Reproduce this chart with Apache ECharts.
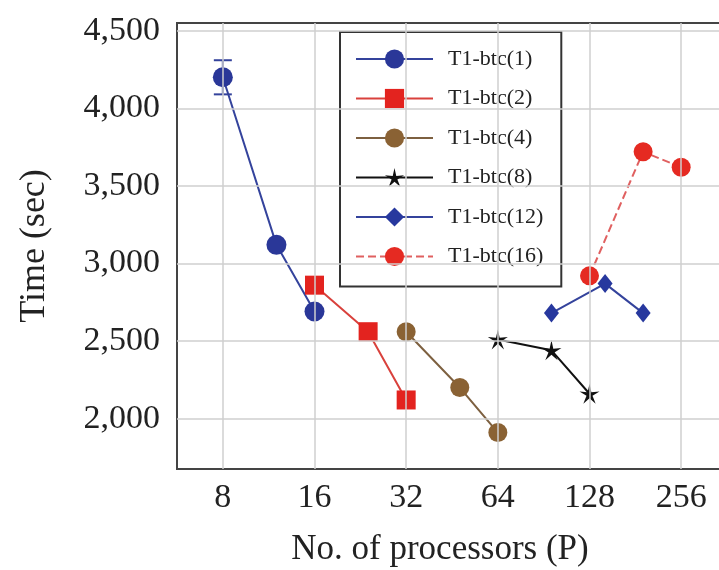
<!DOCTYPE html>
<html>
<head>
<meta charset="utf-8">
<script src="https://cdn.jsdelivr.net/npm/echarts@6/dist/echarts.min.js"></script>
</head>
<body style="margin:0">
<div id="main" style="width:719px;height:570px"></div>
<script>
var xTicks = [8, 16, 32, 64, 128, 256];
var yTicks = [2000, 2500, 3000, 3500, 4000, 4500];

var names = ['T1-btc(1)', 'T1-btc(2)', 'T1-btc(4)', 'T1-btc(8)', 'T1-btc(12)', 'T1-btc(16)'];
var procs1 = [8, 12, 16];      var time1 = [4200, 3120, 2690];
var procs2 = [16, 24, 32];     var time2 = [2860, 2560, 2120];
var procs4 = [32, 48, 64];     var time4 = [2560, 2200, 1910];
var procs8 = [64, 96, 128];    var time8 = [2510, 2440, 2160];
var procs12 = [96, 144, 192];  var time12 = [2680, 2870, 2680];
var procs16 = [128, 192, 256]; var time16 = [2920, 3720, 3620];

// error bar on the first point of T1-btc(1)
var errProc = [8];
var errLow = [4090];
var errHigh = [4310];

var serif = '"Liberation Serif", "Times New Roman", serif';
var star = 'path://M10 0 L11.76 7.57 L19.51 6.91 L12.85 10.93 L15.88 18.09 L10 13 L4.12 18.09 L7.15 10.93 L0.49 6.91 L8.24 7.57 Z';

function pts(procs, times) {
    return procs.map(function (p, i) { return [Math.log2(p), times[i]]; });
}
function near(v, list) {
    for (var i = 0; i < list.length; i++) {
        if (Math.abs(v - list[i]) < 1e-6) return true;
    }
    return false;
}

var chart = echarts.init(document.getElementById('main'));

function lineSeries(name, procs, times, symbol, size, fill, lineColor, dash) {
    return {
        name: name,
        type: 'line',
        data: pts(procs, times),
        symbol: symbol,
        symbolSize: size,
        z: 3,
        itemStyle: { color: fill, opacity: 1 },
        lineStyle: { color: lineColor, width: 2, type: dash || 'solid' }
    };
}

var option = {
    animation: false,
    backgroundColor: '#fff',
    grid: {
        left: 177, top: 23, width: 550, bottom: 101,
        outerBoundsMode: 'none',
        show: true, borderColor: '#444', borderWidth: 2, backgroundColor: 'transparent'
    },
    legend: {
        data: names,
        orient: 'vertical',
        left: 340, top: 32,
        itemWidth: 77, itemHeight: 24, itemGap: 17.5,
        padding: [16, 18, 19, 15],
        backgroundColor: '#fff',
        borderColor: '#333', borderWidth: 2,
        textStyle: { fontFamily: serif, fontSize: 22, color: '#222', padding: [0, 0, 0, 10] }
    },
    xAxis: {
        type: 'value',
        min: 2.5, max: 8.5, interval: 0.5,
        name: 'No. of processors (P)',
        nameLocation: 'middle',
        nameGap: 63,
        nameTextStyle: { fontFamily: serif, fontSize: 35, color: '#222', padding: [0, 24, 0, 0] },
        axisLine: { show: false },
        axisTick: { show: false },
        splitLine: { show: false },
        axisLabel: {
            margin: 12,
            fontFamily: serif, fontSize: 34, color: '#222',
            formatter: function (v) {
                var p = Math.pow(2, v);
                return near(p, xTicks) ? String(Math.round(p)) : '';
            }
        }
    },
    yAxis: {
        type: 'value',
        min: 1675, max: 4550, interval: 25,
        name: 'Time (sec)',
        nameLocation: 'middle',
        nameGap: 124,
        nameTextStyle: { fontFamily: serif, fontSize: 36, color: '#222' },
        axisLine: { show: false },
        axisTick: { show: false },
        splitLine: { show: false },
        axisLabel: {
            margin: 17,
            fontFamily: serif, fontSize: 34, color: '#222',
            formatter: function (v) {
                return near(v, yTicks) ? v.toLocaleString('en-US') : '';
            }
        }
    },
    series: [
        {
            name: 'grid',
            type: 'line',
            data: [],
            z: 1,
            silent: true,
            markLine: {
                silent: true,
                symbol: 'none',
                label: { show: false },
                lineStyle: { color: '#cfcfcf', width: 1.5, type: 'solid' },
                data: xTicks.map(function (p) { return { xAxis: Math.log2(p) }; })
                    .concat(yTicks.map(function (t) { return { yAxis: t }; }))
            }
        },
        {
            name: 'err',
            type: 'custom',
            z: 2,
            data: errProc.map(function (p, i) { return [Math.log2(p), errLow[i], errHigh[i]]; }),
            renderItem: function (params, api) {
                var lo = api.coord([api.value(0), api.value(1)]);
                var hi = api.coord([api.value(0), api.value(2)]);
                var w = 9;
                var st = { stroke: '#34439c', lineWidth: 2 };
                return {
                    type: 'group',
                    children: [
                        { type: 'line', shape: { x1: lo[0], y1: lo[1], x2: hi[0], y2: hi[1] }, style: st },
                        { type: 'line', shape: { x1: lo[0] - w, y1: lo[1], x2: lo[0] + w, y2: lo[1] }, style: st },
                        { type: 'line', shape: { x1: hi[0] - w, y1: hi[1], x2: hi[0] + w, y2: hi[1] }, style: st }
                    ]
                };
            }
        },
        lineSeries(names[0], procs1, time1, 'circle', 20, '#2a3798', '#34439c'),
        lineSeries(names[1], procs2, time2, 'rect', 19, '#e3231f', '#d9413c'),
        lineSeries(names[2], procs4, time4, 'circle', 19, '#8a6234', '#7d6040'),
        lineSeries(names[3], procs8, time8, star, 20, '#111', '#111'),
        lineSeries(names[4], procs12, time12, 'diamond', [15, 19], '#27389e', '#34439c'),
        lineSeries(names[5], procs16, time16, 'circle', 19, '#e52a22', '#e06060', 'dashed')
    ]
};

chart.setOption(option);
</script>
</body>
</html>
